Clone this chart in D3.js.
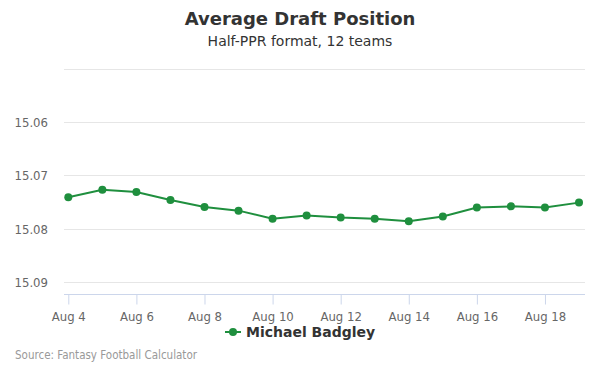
<!DOCTYPE html>
<html>
<head>
<meta charset="utf-8">
<script src="https://cdn.jsdelivr.net/npm/d3@7"></script>
<style>
  body { margin: 0; background: #fff; }
  svg { display: block; }
</style>
</head>
<body>
<svg id="chart"></svg>
<script>
// data
const days = [4, 5, 6, 7, 8, 9, 10, 11, 12, 13, 14, 15, 16, 17, 18, 19];
const adp = [15.0741, 15.0727, 15.0731, 15.0746, 15.0759, 15.0766, 15.0781, 15.0775,
             15.0779, 15.0781, 15.0786, 15.0777, 15.0760, 15.0758, 15.0760, 15.0751];
const tickDays = [4, 6, 8, 10, 12, 14, 16, 18];
const yTicks = [15.05, 15.06, 15.07, 15.08, 15.09];
const seriesName = "Michael Badgley";

const W = 600, H = 375;
const margin = { top: 68, right: 15, bottom: 81, left: 64 };
const color = "#1f8f3e";
const smallFont = "DejaVu Sans Condensed, DejaVu Sans, sans-serif";

const svg = d3.select("#chart").attr("width", W).attr("height", H);

// x: one day apart, Aug 4 sits a little inside the plot
const x = d3.scaleLinear()
    .domain([4, 19])
    .range([68.3, 579]);

// reversed y axis (lower ADP on top)
const y = d3.scaleLinear()
    .domain([15.05, 15.0922])
    .range([margin.top + 0.5, H - margin.bottom]);

const plotLeft = margin.left, plotRight = W - margin.right;

// gridlines
svg.append("g")
    .selectAll("line")
    .data(yTicks)
    .join("line")
    .attr("x1", plotLeft)
    .attr("x2", plotRight)
    .attr("y1", d => Math.round(y(d)) + 0.5)
    .attr("y2", d => Math.round(y(d)) + 0.5)
    .attr("stroke", "#e6e6e6");

// y labels (first one hidden like the original)
svg.append("g")
    .selectAll("text")
    .data(yTicks.slice(1))
    .join("text")
    .attr("x", 48)
    .attr("y", d => y(d) + 5)
    .attr("text-anchor", "end")
    .attr("font-family", smallFont)
    .attr("font-size", 13)
    .attr("fill", "#666")
    .text(d => d.toFixed(2));

// x axis
const xAxis = svg.append("g")
    .attr("transform", `translate(0, ${Math.round(H - margin.bottom) + 0.5})`)
    .call(d3.axisBottom(x)
        .tickValues(tickDays)
        .tickSize(10)
        .tickPadding(7)
        .tickFormat(d => "Aug " + d));

xAxis.select(".domain")
    .attr("d", `M${plotLeft},0H${plotRight}`)
    .attr("stroke", "#ccd6eb");
xAxis.selectAll(".tick line").attr("stroke", "#ccd6eb");
xAxis.selectAll(".tick text")
    .attr("font-family", smallFont)
    .attr("font-size", 13)
    .attr("fill", "#666");

// line + markers
const line = d3.line()
    .x((d, i) => x(days[i]))
    .y(d => y(d));

svg.append("path")
    .datum(adp)
    .attr("d", line)
    .attr("fill", "none")
    .attr("stroke", color)
    .attr("stroke-width", 2);

svg.append("g")
    .selectAll("circle")
    .data(adp)
    .join("circle")
    .attr("cx", (d, i) => x(days[i]))
    .attr("cy", d => y(d))
    .attr("r", 4)
    .attr("fill", color);

// titles
svg.append("text")
    .attr("x", W / 2)
    .attr("y", 25)
    .attr("text-anchor", "middle")
    .attr("font-family", "DejaVu Sans, sans-serif")
    .attr("font-size", 18)
    .attr("font-weight", "bold")
    .attr("fill", "#333")
    .text("Average Draft Position");

svg.append("text")
    .attr("x", W / 2)
    .attr("y", 46)
    .attr("text-anchor", "middle")
    .attr("font-family", "DejaVu Sans, sans-serif")
    .attr("font-size", 14)
    .attr("fill", "#333")
    .text("Half-PPR format, 12 teams");

// legend
const legend = svg.append("g").attr("transform", "translate(225, 332)");
legend.append("line")
    .attr("x1", 0).attr("x2", 16)
    .attr("stroke", color)
    .attr("stroke-width", 2);
legend.append("circle")
    .attr("cx", 8)
    .attr("r", 4)
    .attr("fill", color);
legend.append("text")
    .attr("x", 21)
    .attr("y", 5)
    .attr("font-family", "DejaVu Sans, sans-serif")
    .attr("font-size", 14)
    .attr("font-weight", "bold")
    .attr("fill", "#333")
    .text(seriesName);

// credits
svg.append("text")
    .attr("x", 15)
    .attr("y", 359)
    .attr("font-family", smallFont)
    .attr("font-size", 11.5)
    .attr("fill", "#999")
    .text("Source: Fantasy Football Calculator");
</script>
</body>
</html>
